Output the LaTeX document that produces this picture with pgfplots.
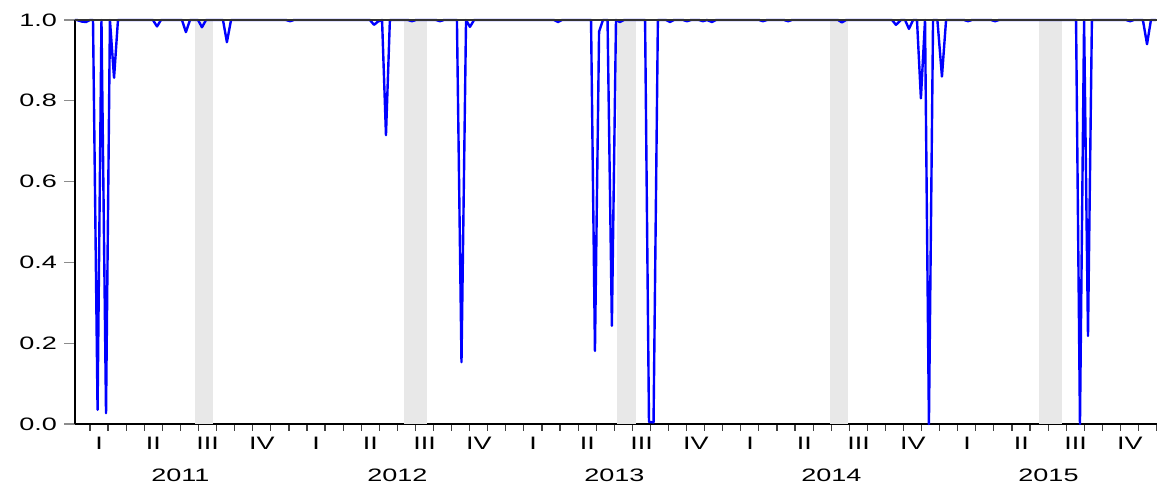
\documentclass[border=0pt]{standalone}
\usepackage{fontspec}
\setmainfont{Liberation Sans}[FakeStretch=1.5]
\usepackage{pgfplots}
\usepackage{pgfplotstable}
\pgfplotsset{compat=1.18}
\definecolor{band}{RGB}{232,232,232}
\definecolor{ser}{RGB}{0,0,255}

% weekly series, only the weeks around each dip are listed (value 1 elsewhere)
\pgfplotstableread{
x y
2011.014 1.000
2011.023 1.000
2011.046 0.996
2011.065 0.995
2011.083 1.000
2011.097 1.000
2011.118 0.035
2011.136 1.000
2011.157 0.027
2011.175 1.000
2011.194 0.857
2011.212 1.000
2011.373 1.000
2011.392 0.984
2011.410 1.000
2011.507 1.000
2011.525 0.970
2011.544 1.000
2011.581 1.000
2011.599 0.982
2011.618 1.000
2011.696 1.000
2011.714 0.945
2011.733 1.000
2011.986 1.000
2012.005 0.997
2012.023 1.000
2012.373 1.000
2012.392 0.988
2012.410 0.996
2012.429 1.000
2012.447 0.715
2012.465 1.000
2012.548 1.000
2012.567 0.997
2012.585 1.000
2012.677 1.000
2012.696 0.997
2012.714 1.000
2012.774 1.000
2012.795 0.153
2012.816 1.000
2012.834 0.983
2012.853 1.000
2013.221 1.000
2013.240 0.995
2013.258 1.000
2013.392 1.000
2013.410 0.181
2013.429 0.971
2013.447 1.000
2013.468 1.000
2013.488 0.243
2013.507 1.000
2013.525 0.995
2013.544 1.000
2013.641 1.000
2013.659 0.005
2013.680 0.004
2013.700 1.000
2013.737 1.000
2013.756 0.995
2013.774 1.000
2013.816 1.000
2013.834 0.997
2013.853 1.000
2013.889 1.000
2013.908 0.997
2013.926 1.000
2013.949 0.995
2013.968 1.000
2014.166 1.000
2014.184 0.997
2014.203 1.000
2014.281 1.000
2014.300 0.997
2014.318 1.000
2014.530 1.000
2014.548 0.994
2014.567 1.000
2014.779 1.000
2014.797 0.988
2014.820 1.000
2014.839 1.000
2014.857 0.978
2014.876 1.000
2014.894 1.000
2014.912 0.806
2014.931 1.000
2014.949 0.000
2014.968 1.000
2014.988 1.000
2015.009 0.860
2015.028 1.000
2015.111 1.000
2015.129 0.997
2015.147 1.000
2015.235 1.000
2015.254 0.997
2015.272 1.000
2015.627 1.000
2015.645 0.000
2015.664 1.000
2015.682 0.218
2015.700 1.000
2015.857 1.000
2015.876 0.997
2015.894 1.000
2015.935 1.000
2015.954 0.940
2015.972 1.000
2015.995 1.000
}\ratio

\begin{document}
\begin{tikzpicture}
\useasboundingbox (-37.5pt,-33pt) rectangle (541pt,212pt);
\begin{axis}[
  at={(0,0)}, anchor=south west,
  scale only axis, width=541pt, height=202pt,
  xmin=2011.014, xmax=2016, ymin=0, ymax=1,
  axis x line*=bottom, axis y line*=left,
  axis line style={black, line width=1pt, -},
  clip=false,
  tick align=outside,
  major tick length=5.5pt,
  minor tick length=3.5pt,
  ytick={0,0.2,0.4,0.6,0.8,1},
  ytick style={black!45, line width=0.6pt},
  yticklabel style={/pgf/number format/.cd, fixed, fixed zerofill, precision=1, assume math mode=true},
  xtick={2011.125,2011.375,2011.625,2011.875,
         2012.125,2012.375,2012.625,2012.875,
         2013.125,2013.375,2013.625,2013.875,
         2014.125,2014.375,2014.625,2014.875,
         2015.125,2015.375,2015.625,2015.875},
  xticklabels={I,II,III,IV,I,II,III,IV,I,II,III,IV,I,II,III,IV,I,II,III,IV},
  xticklabel style={yshift=2.5pt},
  major x tick style={draw=none},
  minor xtick={2011.0833,2011.1667,...,2015.95},
  minor x tick style={black!75, line width=0.6pt},
  extra x ticks={2011.5,2012.5,2013.5,2014.5,2015.5},
  extra x tick labels={2011,2012,2013,2014,2015},
  extra x tick style={xticklabel style={yshift=-16pt}},
  tick label style={font=\fontsize{9}{10}\selectfont, text=black},
]
\addplot[draw=none, fill=band, forget plot] coordinates {(2011.567,0) (2011.567,1) (2011.650,1) (2011.650,0)} -- cycle;
\addplot[draw=none, fill=band, forget plot] coordinates {(2012.530,0) (2012.530,1) (2012.636,1) (2012.636,0)} -- cycle;
\addplot[draw=none, fill=band, forget plot] coordinates {(2013.512,0) (2013.512,1) (2013.599,1) (2013.599,0)} -- cycle;
\addplot[draw=none, fill=band, forget plot] coordinates {(2014.493,0) (2014.493,1) (2014.576,1) (2014.576,0)} -- cycle;
\addplot[draw=none, fill=band, forget plot] coordinates {(2015.456,0) (2015.456,1) (2015.562,1) (2015.562,0)} -- cycle;
\addplot[ser, line width=1.2pt, line join=round, no markers] table {\ratio};
\draw[black!80, line width=0.6pt] (rel axis cs:0,1) -- (rel axis cs:1,1);
\end{axis}
\end{tikzpicture}
\end{document}
